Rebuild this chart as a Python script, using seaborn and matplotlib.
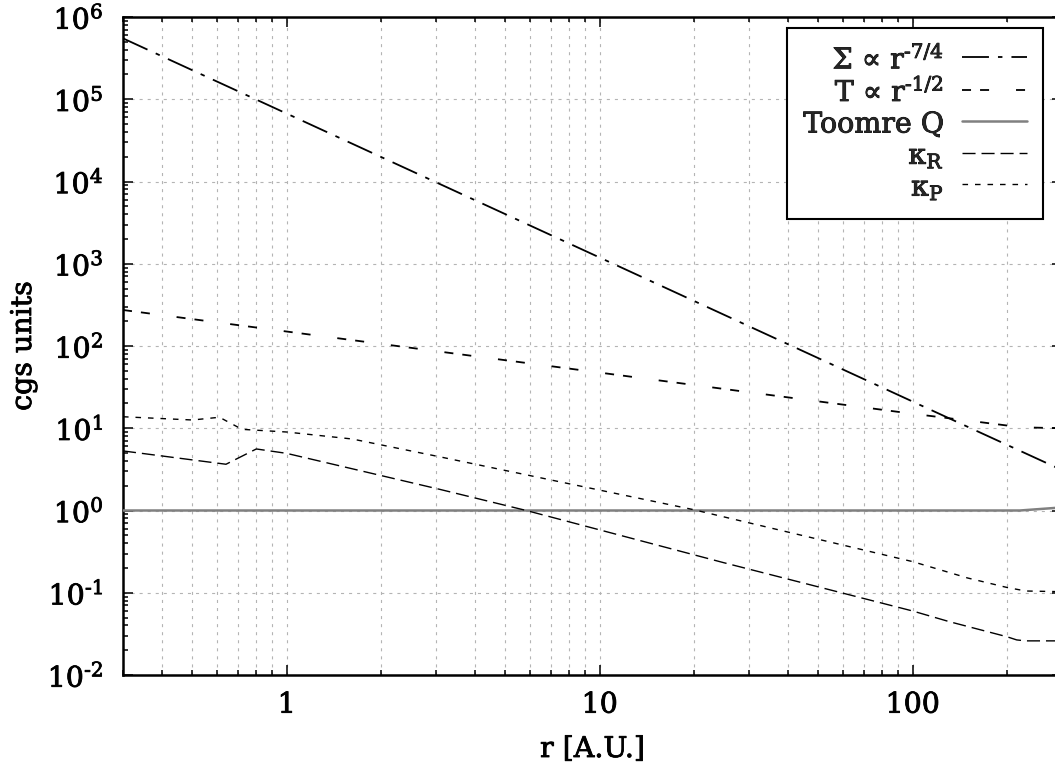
import numpy as np
import matplotlib
matplotlib.use("Agg")
import matplotlib.pyplot as plt
import matplotlib.patheffects as pe
import seaborn as sns
from matplotlib.ticker import FixedLocator, FixedFormatter, LogLocator, NullFormatter

# Disc profiles against radius (A.U.)
r_sigma = [0.3, 1.0, 10.0, 100.0, 300.0]
sigma = [5.5e5, 6.7e4, 1.19e3, 21.1, 3.1]

r_temp = [0.3, 1.0, 10.0, 65.0, 100.0, 150.0, 200.0, 240.0, 300.0]
temp = [274.0, 150.0, 47.5, 18.6, 15.0, 12.4, 10.8, 10.2, 10.0]

r_q = [0.3, 220.0, 300.0]
toomre_q = [1.0, 1.0, 1.09]

r_kr = [0.3, 0.64, 0.80, 1.0, 3.08, 5.83, 24.7, 100.0, 131.0, 200.0, 215.0, 230.0, 300.0]
kappa_r = [5.3, 3.65, 5.6, 4.95, 1.81, 1.0, 0.234, 0.06, 0.0445, 0.0292, 0.0267, 0.026, 0.026]

r_kp = [0.3, 0.5, 0.61, 0.72, 1.0, 1.62, 3.08, 19.8, 100.0, 150.0, 200.0, 230.0, 300.0]
kappa_p = [13.8, 12.6, 13.6, 9.7, 9.0, 7.4, 4.5, 1.03, 0.239, 0.151, 0.116, 0.105, 0.103]

labels = [
    "Σ ∝ r$^{\\mathregular{\u20107/4}}$",
    "T ∝ r$^{\\mathregular{\u20101/2}}$",
    "Toomre Q",
    "κ$_{\\mathregular{R}}$",
    "κ$_{\\mathregular{P}}$",
]

x_ticks = [1, 10, 100]
x_tick_labels = ["1", "10", "100"]
y_ticks = [1e-2, 1e-1, 1e0, 1e1, 1e2, 1e3, 1e4, 1e5, 1e6]
y_tick_labels = ["10$^{\\mathregular{\u20102}}$", "10$^{\\mathregular{\u20101}}$",
                 "10$^{\\mathregular{0}}$", "10$^{\\mathregular{1}}$",
                 "10$^{\\mathregular{2}}$", "10$^{\\mathregular{3}}$",
                 "10$^{\\mathregular{4}}$", "10$^{\\mathregular{5}}$",
                 "10$^{\\mathregular{6}}$"]

sns.set_theme(style="ticks")
plt.rcParams["font.family"] = ["DejaVu Serif"]
plt.rcParams["mathtext.fontset"] = "dejavuserif"
plt.rcParams["lines.scale_dashes"] = False

FS = 20.5
heavy = [pe.withStroke(linewidth=0.6, foreground="black")]

fig = plt.figure(figsize=(10.55, 7.72), dpi=100)
fig.patch.set_facecolor("white")
ax = fig.add_axes([123 / 1055, 1 - 675 / 772, 939 / 1055, 658 / 772])
ax.set_facecolor("white")
ax.set_xscale("log")
ax.set_yscale("log")

styles = [
    dict(color="black", linewidth=1.3, linestyle=(0, (19.4, 6.5, 3.2, 6.5))),
    dict(color="black", linewidth=1.3, linestyle=(0, (6.5, 6.5, 6.5, 19.4))),
    dict(color="#808080", linewidth=1.8, linestyle="-"),
    dict(color="black", linewidth=1.0, linestyle=(0, (9.4, 4.3))),
    dict(color="black", linewidth=1.0, linestyle=(0, (4.0, 5.0))),
]
data = [(r_sigma, sigma), (r_temp, temp), (r_q, toomre_q), (r_kr, kappa_r), (r_kp, kappa_p)]

handles = []
for (rr, vv), lab, st in zip(data, labels, styles):
    n_before = len(ax.lines)
    sns.lineplot(x=rr, y=vv, ax=ax, label=lab, legend=False, zorder=3, **st)
    handles.append(ax.lines[n_before])

ax.set_xlim(0.3, 300)
ax.set_ylim(1e-2, 1e6)

ax.xaxis.set_major_locator(FixedLocator(x_ticks))
ax.xaxis.set_major_formatter(FixedFormatter(x_tick_labels))
ax.xaxis.set_minor_locator(LogLocator(base=10, subs=np.arange(2, 10), numticks=20))
ax.xaxis.set_minor_formatter(NullFormatter())
ax.yaxis.set_major_locator(FixedLocator(y_ticks))
ax.yaxis.set_major_formatter(FixedFormatter(y_tick_labels))
ax.yaxis.set_minor_locator(LogLocator(base=10, subs=np.arange(2, 10), numticks=20))
ax.yaxis.set_minor_formatter(NullFormatter())

grid_style = dict(color="#b4b4b4", linewidth=0.8, linestyle=(0, (2.2, 3.6)))
ax.set_axisbelow(True)
ax.grid(which="major", axis="both", **grid_style)
ax.grid(which="minor", axis="x", **grid_style)

for sp in ax.spines.values():
    sp.set_linewidth(1.8)
    sp.set_color("black")
    sp.set_visible(True)

ax.tick_params(which="both", direction="in", top=True, right=True, color="black", width=1.1)
ax.tick_params(which="major", length=7)
ax.tick_params(which="minor", length=3.6)
ax.tick_params(axis="x", which="major", labelsize=FS, pad=12, labelcolor="black")
ax.tick_params(axis="y", which="major", labelsize=FS, pad=14, labelcolor="black")

ax.set_xlabel("r [A.U.]", fontsize=FS, color="black")
ax.set_ylabel("cgs units", fontsize=FS, color="black")
ax.xaxis.set_label_coords(0.5, (675 - 736) / 658)
ax.yaxis.set_label_coords((37 - 123) / 939, 0.5)

leg = ax.legend(handles=handles, labels=labels, loc="upper right",
                bbox_to_anchor=(0.98, 0.983), borderaxespad=0, markerfirst=False,
                handlelength=2.28, handleheight=1.0, handletextpad=0.63,
                labelspacing=0.1, borderpad=0.58, fancybox=False, framealpha=1,
                edgecolor="black", fontsize=FS)
leg.get_frame().set_linewidth(1.5)
leg.set_zorder(5)

fig.canvas.draw()
for t in ax.get_xticklabels() + ax.get_yticklabels() + leg.get_texts():
    t.set_path_effects(heavy)
ax.xaxis.label.set_path_effects(heavy)
ax.yaxis.label.set_path_effects(heavy)

fig.savefig("out.png", dpi=100, facecolor="white")
